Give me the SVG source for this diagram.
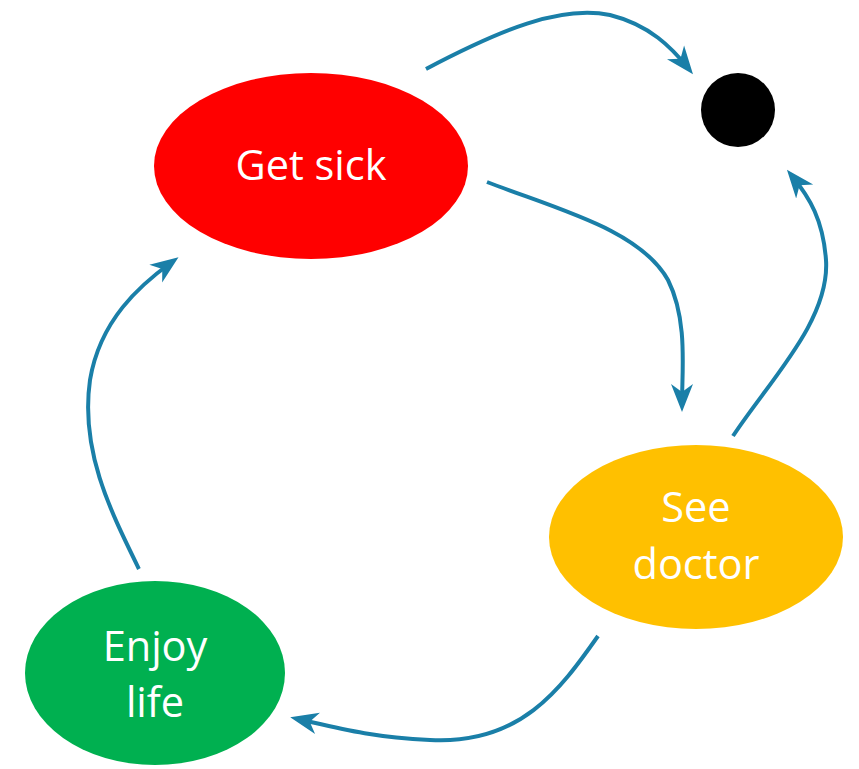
<svg xmlns="http://www.w3.org/2000/svg" width="859" height="769" viewBox="0 0 859 769">
<style>
.lbl{font-family:"Open Sans","Noto Sans","Liberation Sans",sans-serif;font-size:41.5px;fill:#fff;text-anchor:middle;dominant-baseline:central}
.con{fill:none;stroke:#1a7fa8;stroke-width:4;marker-end:url(#arr)}
</style>
<defs>
<marker id="arr" viewBox="0 -12 28 24" refX="20" refY="0" markerWidth="28" markerHeight="24" markerUnits="userSpaceOnUse" orient="auto">
<path d="M0,-11 L28,0 L0,11 L8,0 Z" fill="#1a7fa8"/>
</marker>
</defs>
<rect width="859" height="769" fill="#fff"/>
<g id="connectors">
<path class="con" d="M426,69 C500,30 560,5 610,15 C650,25 672,48 688,68"/>
<path class="con" d="M487,182 C560,210 640,230 668,280 C688,320 682,370 682,404"/>
<path class="con" d="M733,436 C770,380 830,320 826,260 C823,220 810,198 792,176"/>
<path class="con" d="M598,636 C560,690 520,745 430,740 C370,737 338,728 298,719"/>
<path class="con" d="M139,569 C110,510 80,450 90,380 C100,320 140,285 172,262"/>
</g>
<g id="getsick">
<ellipse cx="311" cy="166" rx="157" ry="93" fill="#ff0000"/>
<text class="lbl" x="311" y="164">Get sick</text>
</g>
<g id="final">
<circle cx="738" cy="110" r="37" fill="#000"/>
</g>
<g id="seedoctor">
<ellipse cx="696" cy="537" rx="147" ry="92" fill="#ffc000"/>
<text class="lbl" x="696" y="506">See</text>
<text class="lbl" x="696" y="563">doctor</text>
</g>
<g id="enjoylife">
<ellipse cx="155" cy="673" rx="130" ry="92" fill="#00b050"/>
<text class="lbl" x="155" y="645">Enjoy</text>
<text class="lbl" x="155" y="701">life</text>
</g>
</svg>
